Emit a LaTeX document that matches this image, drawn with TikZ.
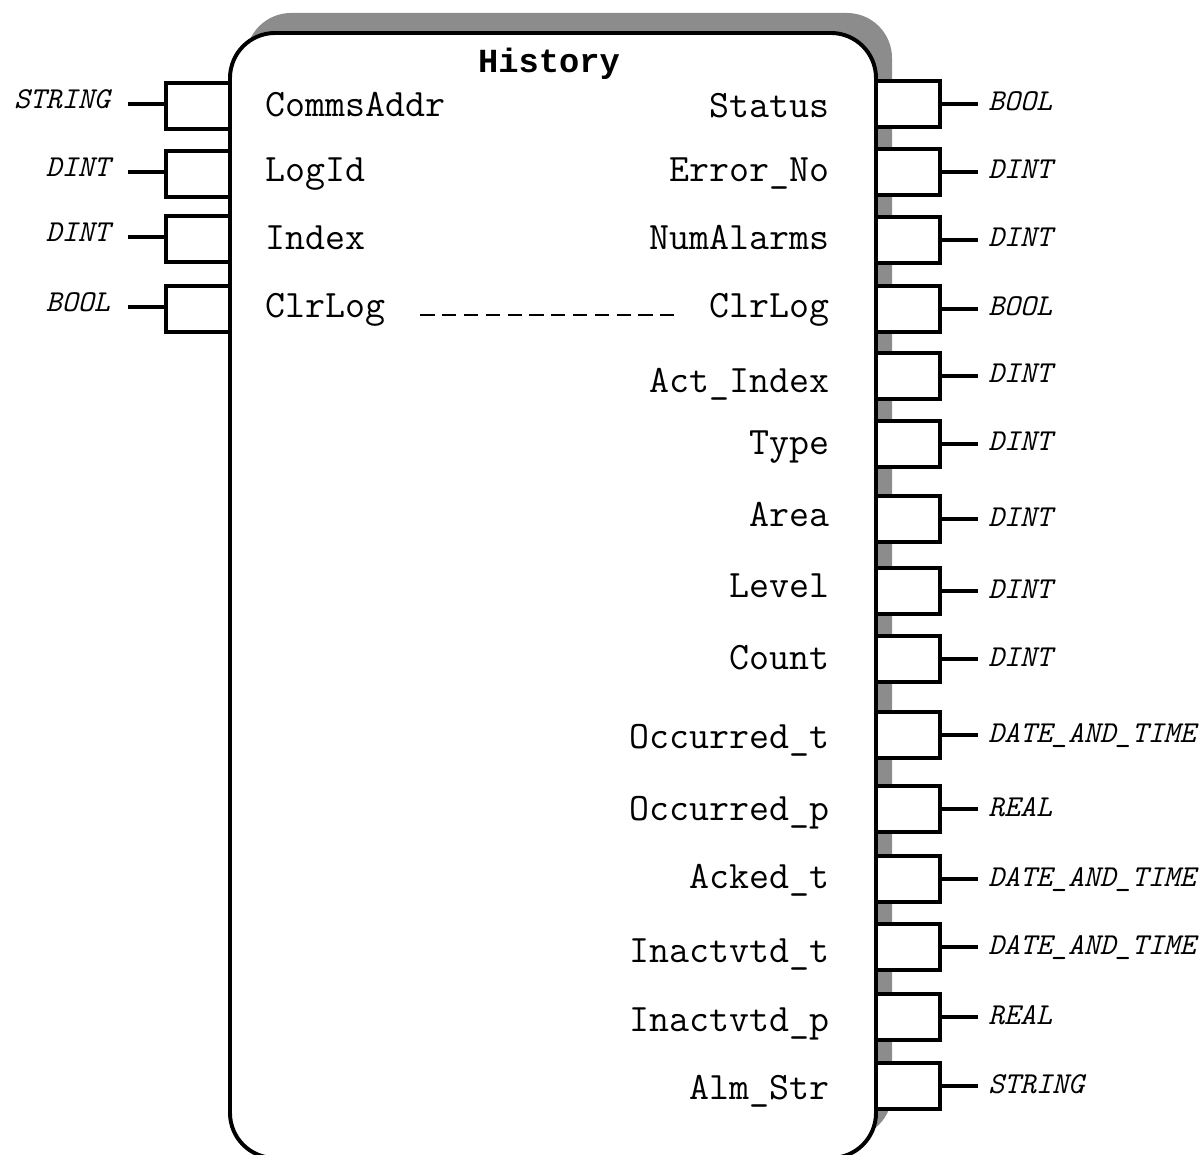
\documentclass[tikz,border=0pt]{standalone}
\usepackage{fontspec}
\newfontfamily\headfont{Liberation Mono}
\usetikzlibrary{positioning,calc}
\tikzset{
  fbbody/.style={draw=black,fill=white,line width=2.8pt,rounded corners=1.125cm},
  fbshadow/.style={fill=black!45,rounded corners=1.125cm},
  pinbox/.style={draw=black,fill=white,line width=2.4pt,minimum width=1.6cm,
    minimum height=1.15cm,inner sep=0pt},
  pinwire/.style={line width=2.4pt},
  portname/.style={font=\ttfamily\fontsize{27.6}{32}\selectfont,inner sep=0pt},
  typename/.style={font=\ttfamily\itshape\fontsize{21.6}{25}\selectfont,inner sep=0pt},
  titlename/.style={font=\headfont\bfseries\fontsize{24}{28}\selectfont,inner sep=0pt},
  linkline/.style={line width=1.2pt,dash pattern=on 10pt off 5.5pt}
}

\begin{document}
\begin{tikzpicture}[x=0.025cm,y=-0.025cm]
  \useasboundingbox (0,0) rectangle (1199,1155);

  % function block body with its shadow
  \fill[fbshadow] (246,13) rectangle (892,1138);
  \draw[fbbody] (230,33) rectangle (876,1158);
  \node[titlename,anchor=base] (title) at (549,73) {History};

  % inputs on the left
  \foreach \py/\ly/\port/\dtype [count=\i] in {
      106/107/CommsAddr/STRING, 174/172/LogId/DINT,
      239/240/Index/DINT, 309/308/ClrLog/BOOL}{
    \node[pinbox] (pl\i) at (198,\py) {};
    \coordinate (wl\i) at (128,\py-2);
    \draw[pinwire] (pl\i.west |- wl\i) -- (wl\i);
    \node[typename,anchor=base east] (tl\i) at (110,\py+3) {\dtype};
    \node[portname,anchor=base west] (nl\i) at (265,\ly+10) {\port};
  }

  % outputs on the right
  \foreach \py/\ly/\port/\dtype [count=\i] in {
      104/108/Status/BOOL, 172/172/Error\_No/DINT,
      240/240/NumAlarms/DINT, 309/308/ClrLog/BOOL,
      376/383/Act\_Index/DINT, 444/444/Type/DINT,
      519/516/Area/DINT, 591/587/Level/DINT,
      659/659/Count/DINT, 735/738/Occurred\_t/DATE\_AND\_TIME,
      809/810/Occurred\_p/REAL, 879/878/Acked\_t/DATE\_AND\_TIME,
      947/952/Inactvtd\_t/DATE\_AND\_TIME, 1017/1021/Inactvtd\_p/REAL,
      1086/1089/Alm\_Str/STRING}{
    \node[pinbox] (pr\i) at (908,\py) {};
    \coordinate (wr\i) at (978,\py);
    \draw[pinwire] (pr\i.east) -- (wr\i);
    \node[typename,anchor=base west] (tr\i) at (988,\py+7) {\dtype};
    \node[portname,anchor=base east] (nr\i) at (830,\ly+10) {\port};
  }

  % ClrLog passes straight through
  \draw[linkline] ($(nl4.base east)+(35,-3)$) -- ($(nr4.base west)+(-32,-3)$);
\end{tikzpicture}
\end{document}
